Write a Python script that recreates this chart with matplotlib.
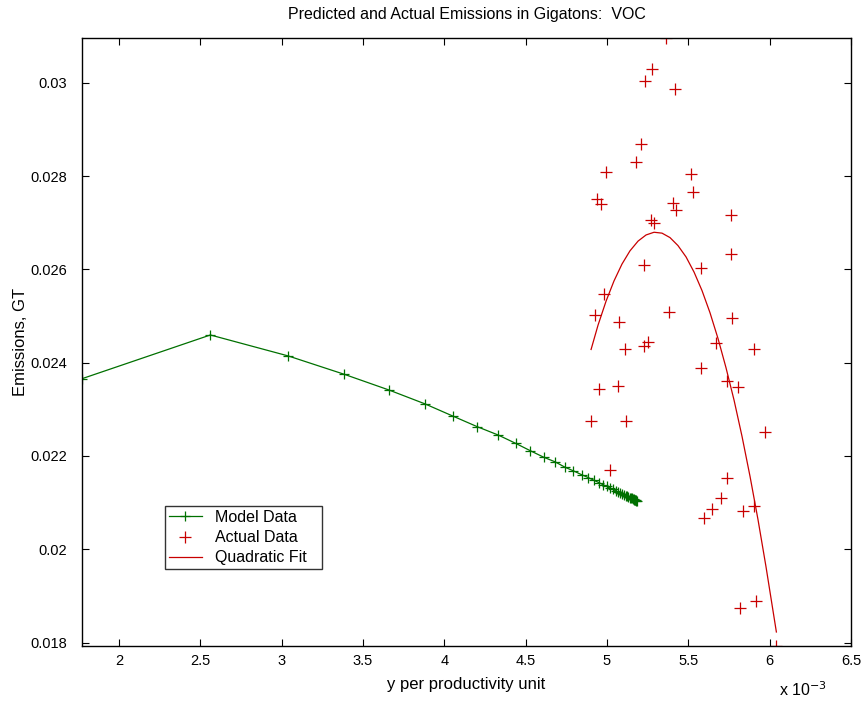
import matplotlib
matplotlib.use("Agg")
import matplotlib.pyplot as plt
from matplotlib.ticker import FixedLocator, FuncFormatter

plt.rcParams['font.family'] = ['Liberation Sans', 'DejaVu Sans']

# x values are in units of 1e-3 (axis shows "x 10^-3")
model_x = [1.773, 2.562, 3.041, 3.385, 3.660, 3.879, 4.052, 4.203, 4.332, 4.439,
           4.529, 4.613, 4.680, 4.744, 4.793, 4.845, 4.886, 4.920, 4.950, 4.975,
           4.998, 5.018, 5.037, 5.053, 5.068, 5.082, 5.094, 5.105, 5.115, 5.124,
           5.132, 5.139, 5.146, 5.152, 5.158, 5.163, 5.167, 5.171, 5.175, 5.178,
           5.180, 5.183]
model_y = [0.023657, 0.024594, 0.024144, 0.023751, 0.023414, 0.023120, 0.022856,
           0.022627, 0.022448, 0.022270, 0.022112, 0.021970, 0.021876, 0.021755,
           0.021682, 0.021597, 0.021535, 0.021478, 0.021429, 0.021385, 0.021347,
           0.021313, 0.021282, 0.021254, 0.021230, 0.021207, 0.021187, 0.021168,
           0.021152, 0.021136, 0.021123, 0.021110, 0.021099, 0.021089, 0.021079,
           0.021071, 0.021064, 0.021058, 0.021052, 0.021047, 0.021043, 0.021039]

actual_x = [5.361, 5.278, 5.234, 5.418, 5.211, 5.178, 4.992, 5.518, 4.937, 4.961,
            5.529, 5.404, 5.426, 5.760, 5.272, 5.291, 5.762, 5.227, 5.580, 4.983,
            4.926, 5.381, 5.076, 5.766, 5.254, 5.229, 5.111, 5.668, 5.905, 5.578,
            5.736, 5.803, 4.951, 5.069, 4.902, 5.119, 5.971, 5.020, 5.739, 5.699,
            5.643, 5.598, 5.838, 5.902, 5.819, 5.916, 6.039]
actual_y = [0.030961, 0.030296, 0.030030, 0.029867, 0.028687, 0.028300, 0.028092,
            0.028049, 0.027506, 0.027406, 0.027657, 0.027433, 0.027277, 0.027163,
            0.027069, 0.026991, 0.026339, 0.026090, 0.026026, 0.025474, 0.025024,
            0.025082, 0.024880, 0.024953, 0.024450, 0.024358, 0.024300, 0.024430,
            0.024288, 0.023880, 0.023614, 0.023472, 0.023436, 0.023506, 0.022749,
            0.022755, 0.022506, 0.021697, 0.021532, 0.021097, 0.020867, 0.020674,
            0.020824, 0.020931, 0.018742, 0.018886, 0.017927]

fit_x = [4.902, 4.945, 4.994, 5.043, 5.092, 5.141, 5.191, 5.240, 5.289, 5.338,
         5.387, 5.436, 5.486, 5.535, 5.584, 5.633, 5.682, 5.731, 5.781, 5.830,
         5.879, 5.928, 5.977, 6.041]
fit_y = [0.024283, 0.024807, 0.025318, 0.025753, 0.026114, 0.026397, 0.026607,
         0.026738, 0.026796, 0.026777, 0.026682, 0.026511, 0.026266, 0.025942,
         0.025545, 0.025071, 0.024521, 0.023897, 0.023195, 0.022418, 0.021564,
         0.020637, 0.019631, 0.018227]

x_ticks = [2, 2.5, 3, 3.5, 4, 4.5, 5, 5.5, 6, 6.5]
y_ticks = [0.018, 0.020, 0.022, 0.024, 0.026, 0.028, 0.030]

green = '#007000'
red = '#c80000'

fig = plt.figure(figsize=(8.67, 7.03), dpi=100)
ax = fig.add_axes([0.0946, 0.0811, 0.8870, 0.8649])

ax.plot(model_x, model_y, color=green, lw=0.9, marker='+', ms=7.5, mew=0.9,
        label='Model Data')
ax.plot(actual_x, actual_y, ls='none', color=red, marker='+', ms=8.5, mew=0.9,
        label='Actual Data')
ax.plot(fit_x, fit_y, color=red, lw=0.9, label='Quadratic Fit')

ax.set_xlim(min(model_x), 6.5)
ax.set_ylim(min(actual_y), max(actual_y))
ax.xaxis.set_major_locator(FixedLocator(x_ticks))
ax.yaxis.set_major_locator(FixedLocator(y_ticks))
ax.xaxis.set_major_formatter(FuncFormatter(lambda v, p: '%g' % v))
ax.yaxis.set_major_formatter(FuncFormatter(lambda v, p: '%g' % round(v, 4)))
ax.tick_params(direction='in', top=True, right=True, length=5, width=0.8,
               labelsize=10.5)
ax.tick_params(axis='x', pad=6)
ax.tick_params(axis='y', pad=10.5)
for s in ax.spines.values():
    s.set_linewidth(1.0)

ax.set_title('Predicted and Actual Emissions in Gigatons:  VOC', fontsize=11.5, pad=14)
ax.set_xlabel('y per productivity unit', fontsize=12, labelpad=6)
ax.set_ylabel('Emissions, GT', fontsize=12, labelpad=2)
ax.text(0.906, -0.072, r'x 10$^{-3}$', transform=ax.transAxes, ha='left', va='center',
        fontsize=11.5)

leg = ax.legend(loc='lower left', bbox_to_anchor=(0.108, 0.1266, 0.204, 0.1),
                mode='expand', borderaxespad=0,
                fancybox=False, edgecolor='black', fontsize=11.5, handlelength=2.1,
                labelspacing=0.33, borderpad=0.22, handletextpad=0.8)
leg.get_frame().set_linewidth(1.0)

fig.savefig('out.png', dpi=100)
